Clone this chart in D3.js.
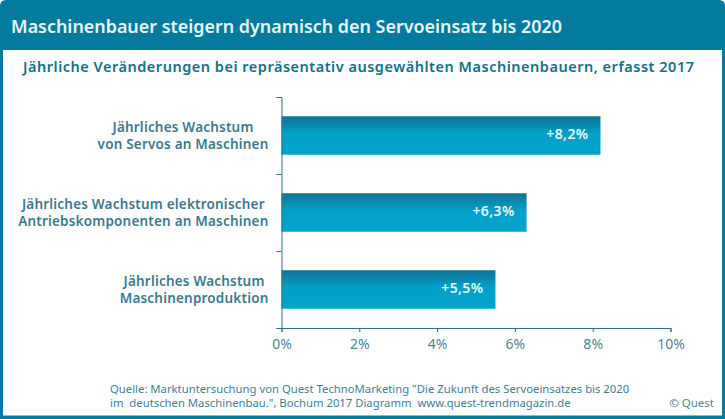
<!DOCTYPE html>
<html>
<head>
<meta charset="utf-8">
<script src="https://cdn.jsdelivr.net/npm/d3@7"></script>
<style>
  html, body { margin: 0; padding: 0; background: #fff; }
  svg { display: block; }
  text { font-family: "Noto Sans", sans-serif; white-space: pre; }
  .axis path, .axis line { stroke: #2f6f80; stroke-width: 1; }
  .axis text { fill: #4d8696; font-size: 14px; }
</style>
</head>
<body>
<svg id="chart" width="725" height="419"></svg>
<script>
const categories = ["servos", "antrieb", "produktion"];
const categoryLabels = [
  ["Jährliches Wachstum", "von Servos an Maschinen"],
  ["Jährliches Wachstum elektronischer", "Antriebskomponenten an Maschinen"],
  ["Jährliches Wachstum", "Maschinenproduktion"]
];
const values = [8.2, 6.3, 5.5];
const valueLabels = ["+8,2%", "+6,3%", "+5,5%"];
const xTicks = [0, 2, 4, 6, 8, 10];
const title = "Maschinenbauer steigern dynamisch den Servoeinsatz bis 2020";
const subtitle = "Jährliche Veränderungen bei repräsentativ ausgewählten Maschinenbauern, erfasst 2017";
const sourceLines = [
  "Quelle: Marktuntersuchung von Quest TechnoMarketing \"Die Zukunft des Servoeinsatzes bis 2020",
  "im  deutschen Maschinenbau.\", Bochum 2017 Diagramm  www.quest-trendmagazin.de"
];

const svg = d3.select("#chart"),
  margin = { top: 97, right: 54.5, bottom: 91, left: 281.5 },
  width = 725 - margin.left - margin.right,
  height = 419 - margin.top - margin.bottom;

const defs = svg.append("defs");
const grad = defs.append("linearGradient")
  .attr("id", "barFill").attr("x1", "0%").attr("y1", "0%").attr("x2", "0%").attr("y2", "100%");
grad.append("stop").attr("offset", "0%").attr("stop-color", "#0f7294");
grad.append("stop").attr("offset", "45%").attr("stop-color", "#03a0c8");
grad.append("stop").attr("offset", "100%").attr("stop-color", "#05a4cc");

// frame and header
svg.append("path")
  .attr("d", "M0,419V6Q0,0 6,0H719Q725,0 725,6V419Z")
  .attr("fill", "#047b9e");
svg.append("rect").attr("x", 3).attr("y", 50).attr("width", 719).attr("height", 365.5).attr("fill", "#fff");

svg.append("text").attr("x", 11).attr("y", 33)
  .attr("fill", "#e6f6f8").attr("font-size", 18).attr("font-weight", 600)
  .attr("textLength", 551).attr("lengthAdjust", "spacingAndGlyphs").text(title);
svg.append("text").attr("x", 23).attr("y", 72)
  .attr("fill", "#12708a").attr("font-size", 14.5).attr("font-weight", 600)
  .attr("textLength", 671).attr("lengthAdjust", "spacing").text(subtitle);

const x = d3.scaleLinear().domain([0, 10]).range([0, width]);
const y = d3.scaleBand().domain(categories).range([0, height]).paddingInner(0.5).paddingOuter(0.25);
const g = svg.append("g").attr("transform", `translate(${margin.left},${margin.top})`);

g.selectAll(".bar")
  .data(values)
  .enter()
  .append("rect")
  .attr("class", "bar")
  .attr("x", 0)
  .attr("y", (d, i) => y(categories[i]))
  .attr("width", d => x(d))
  .attr("height", y.bandwidth())
  .attr("fill", "url(#barFill)");

g.selectAll(".bar-label")
  .data(values)
  .enter()
  .append("text")
  .attr("class", "bar-label")
  .attr("x", d => x(d) - 12)
  .attr("y", (d, i) => y(categories[i]) + y.bandwidth() / 2 + 3)
  .attr("text-anchor", "end")
  .attr("fill", "#e8f8fa")
  .attr("font-size", 14)
  .attr("font-weight", 600)
  .attr("letter-spacing", 0.4)
  .text((d, i) => valueLabels[i]);

// category axis, ticks between the bars
const bandEdges = d3.range(categories.length + 1).map(i => height * i / categories.length);
const yEdge = d3.scaleLinear().domain([0, height]).range([0, height]);
g.append("g").attr("class", "axis")
  .call(d3.axisLeft(yEdge).tickValues(bandEdges).tickSize(5).tickSizeOuter(5).tickFormat(""));

// label blocks are centred line by line, the longest line ends at the same place
categoryLabels.forEach((lines, i) => {
  const rows = lines.map((line, k) => g.append("text")
    .attr("text-anchor", "middle")
    .attr("fill", "#3b7a8c")
    .attr("font-size", 13.5)
    .attr("font-weight", 600)
    .attr("letter-spacing", 0.2)
    .attr("y", y(categories[i]) + y.bandwidth() / 2 - 4 + k * 17)
    .text(line));
  const longest = d3.max(rows, r => r.node().getComputedTextLength());
  rows.forEach(r => r.attr("x", -13 - longest / 2));
});

g.append("g").attr("class", "axis")
  .attr("transform", `translate(0,${height})`)
  .call(d3.axisBottom(x).tickValues(xTicks).tickSize(4).tickSizeOuter(4).tickPadding(7).tickFormat(d => d + "%"));

svg.selectAll(".axis .domain").attr("fill", "none");

sourceLines.forEach((line, k) => {
  svg.append("text").attr("x", 110).attr("y", 393 + k * 14)
    .attr("fill", "#3f8194").attr("font-size", 11.3).text(line);
});
svg.append("text").attr("x", 714).attr("y", 407).attr("text-anchor", "end")
  .attr("fill", "#4d8696").attr("font-size", 11.5).text("© Quest");
</script>
</body>
</html>
